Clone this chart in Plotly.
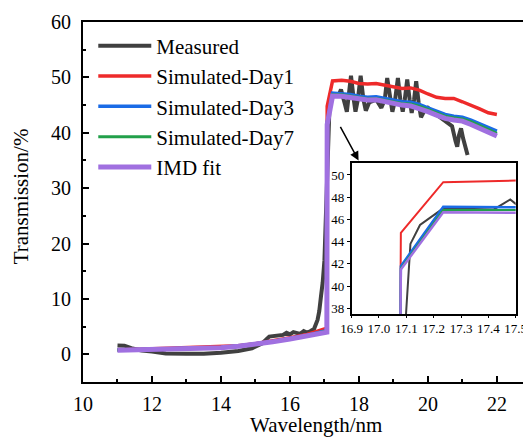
import plotly.graph_objects as go

# ---------------- data ----------------
wl_sim = [11.0, 11.5, 12.0, 12.5, 13.0, 13.5, 14.0, 14.5, 15.0, 15.5, 16.0, 16.5, 17.07,
          17.08, 17.235, 17.5, 17.75, 18.0, 18.25, 18.5, 18.75, 19.0, 19.25, 19.5, 19.75,
          20.0, 20.25, 20.5, 20.75, 21.0, 21.25, 21.5, 21.75, 22.0]
day1 = [0.8, 0.9, 1.0, 1.05, 1.1, 1.2, 1.3, 1.55, 1.9, 2.4, 3.0, 3.6, 4.7,
        44.8, 49.35, 49.5, 49.3, 48.9, 48.8, 48.9, 48.6, 48.3, 48.0, 48.1, 47.7,
        47.0, 46.4, 46.2, 46.2, 45.6, 45.0, 44.3, 43.6, 43.3]
day3 = [0.8, 0.85, 0.95, 1.0, 1.05, 1.15, 1.25, 1.5, 1.85, 2.3, 2.85, 3.4, 4.3,
        41.8, 47.15, 47.1, 46.9, 46.6, 46.4, 46.5, 46.2, 45.9, 45.6, 45.5, 45.1,
        44.5, 43.9, 43.3, 43.0, 42.8, 42.3, 41.6, 40.9, 40.3]
day7 = [0.78, 0.83, 0.93, 0.98, 1.03, 1.13, 1.23, 1.48, 1.83, 2.28, 2.8, 3.35, 4.2,
        41.6, 46.85, 46.85, 46.65, 46.35, 46.15, 46.2, 45.9, 45.6, 45.3, 45.2, 44.8,
        44.2, 43.6, 43.0, 42.7, 42.5, 42.0, 41.3, 40.5, 39.9]
imd_fit = [0.75, 0.8, 0.9, 0.95, 1.0, 1.1, 1.2, 1.45, 1.8, 2.25, 2.75, 3.3, 4.0,
           41.5, 46.65, 46.6, 46.4, 46.1, 45.9, 45.95, 45.6, 45.3, 45.0, 44.85, 44.4,
           43.8, 43.2, 42.6, 42.3, 42.1, 41.5, 40.8, 40.0, 39.4]

wl_meas = [11.0, 11.2, 11.4, 11.7, 12.0, 12.4, 13.0, 13.5, 14.0, 14.5, 14.9, 15.2, 15.4,
           15.6, 15.8, 15.9, 16.0, 16.1, 16.3, 16.4, 16.5, 16.6, 16.7, 16.8, 16.85, 16.9,
           16.95, 17.0, 17.04, 17.07, 17.095, 17.115, 17.15, 17.235, 17.42, 17.48, 17.5,
           17.6, 17.65, 17.7, 17.77, 17.85, 17.9, 17.97, 18.05, 18.13, 18.2, 18.3, 18.5,
           18.65, 18.75, 18.82, 18.9, 18.97, 19.05, 19.13, 19.2, 19.27, 19.33, 19.4, 19.47,
           19.53, 19.6, 19.66, 19.73, 19.8, 19.9, 20.0, 20.2, 20.4, 20.6, 20.7, 20.8, 20.85,
           20.9, 20.96, 21.02, 21.1, 21.15]
measured = [1.6, 1.55, 1.1, 0.7, 0.5, 0.15, 0.1, 0.1, 0.3, 0.6, 1.1, 2.0, 3.2,
            3.4, 3.5, 3.9, 3.6, 4.0, 3.7, 4.2, 3.9, 4.2, 4.6, 6.2, 7.8, 10.5,
            13.0, 17.0, 25.0, 30.0, 36.0, 43.8, 45.5, 47.0, 46.9, 47.8, 47.4,
            45.0, 43.8, 46.0, 50.3, 46.0, 43.8, 46.0, 50.3, 46.0, 44.0, 45.5, 46.0,
            44.5, 46.0, 49.9, 46.0, 43.8, 46.0, 49.9, 46.0, 43.8, 46.0, 49.6, 46.0,
            43.6, 46.0, 49.3, 45.5, 42.8, 44.0, 44.5, 43.5, 42.5, 41.5, 41.2, 38.5, 37.5,
            39.5, 40.8, 39.0, 37.0, 36.0]

names = ["Measured", "Simulated-Day1", "Simulated-Day3", "Simulated-Day7", "IMD fit"]
colors = ["#404040", "#ee2a2a", "#1a6be6", "#22a04a", "#a070e0"]
widths_main = [4, 3.5, 3.5, 3, 5]
widths_inset = [2, 2, 2.5, 2, 2.5]

series = [(wl_meas, measured), (wl_sim, day1), (wl_sim, day3), (wl_sim, day7), (wl_sim, imd_fit)]

FONT = "Liberation Serif"

fig = go.Figure()
for (xs, ys), nm, c, w in zip(series, names, colors, widths_main):
    fig.add_trace(go.Scatter(x=xs, y=ys, mode="lines", name=nm,
                             line=dict(color=c, width=w), xaxis="x", yaxis="y"))
for (xs, ys), nm, c, w in zip(series, names, colors, widths_inset):
    fig.add_trace(go.Scatter(x=xs, y=ys, mode="lines", name=nm, showlegend=False,
                             line=dict(color=c, width=w), xaxis="x2", yaxis="y2"))

axis_common = dict(showline=True, linecolor="black", mirror=True, showgrid=False,
                   zeroline=False, color="black", automargin=False)

fig.update_layout(
    width=523, height=429,
    margin=dict(l=75, r=1, t=14, b=55),
    paper_bgcolor="white", plot_bgcolor="white",
    font=dict(family=FONT, color="black", size=20),
    showlegend=True,
    legend=dict(x=0.023, y=0.99, xanchor="left", yanchor="top",
                bgcolor="rgba(0,0,0,0)", font=dict(family=FONT, size=21),
                itemwidth=53, tracegroupgap=0),
    xaxis=dict(**axis_common, linewidth=2, range=[10, 22.96], dtick=2, tick0=10,
               ticks="inside", ticklen=6, tickwidth=2, ticklabelstandoff=3,
               minor=dict(dtick=1, ticks="inside", ticklen=3, tickwidth=2),
               tickfont=dict(size=20, family=FONT)),
    yaxis=dict(**axis_common, linewidth=2, range=[-5, 60], dtick=10, tick0=0,
               ticks="inside", ticklen=6, tickwidth=2, ticklabelstandoff=6,
               minor=dict(dtick=5, ticks="inside", ticklen=3, tickwidth=2),
               tickfont=dict(size=20, family=FONT)),
    xaxis2=dict(**axis_common, linewidth=1.5, domain=[0.601, 0.968], anchor="y2",
                range=[16.9, 17.5], dtick=0.1, tick0=16.9, tickformat=".1f",
                ticks="outside", ticklen=2, tickwidth=1, tickangle=0,
                tickfont=dict(size=13, family=FONT)),
    yaxis2=dict(**axis_common, linewidth=1.5, domain=[0.189, 0.6075], anchor="x2",
                range=[37.5, 51.05], dtick=2, tick0=38,
                ticks="outside", ticklen=3, tickwidth=1,
                tickfont=dict(size=13, family=FONT)),
)

# axis titles
fig.add_annotation(text="Wavelength/nm", xref="paper", yref="paper", x=0.522, y=-0.119,
                   xanchor="center", yanchor="middle", showarrow=False,
                   font=dict(size=21, family=FONT, color="black"))
fig.add_annotation(text="Transmission/%", xref="paper", yref="paper", x=-0.14, y=0.517,
                   xanchor="center", yanchor="middle", showarrow=False, textangle=-90,
                   font=dict(size=21, family=FONT, color="black"))

# arrow pointing to the inset
fig.add_annotation(x=17.99, y=35.0, xref="x", yref="y", ax=-19, ay=-35,
                   showarrow=True, arrowhead=2, arrowsize=1.2, arrowwidth=1.5,
                   arrowcolor="black", text="")

fig.write_html("out.html")
